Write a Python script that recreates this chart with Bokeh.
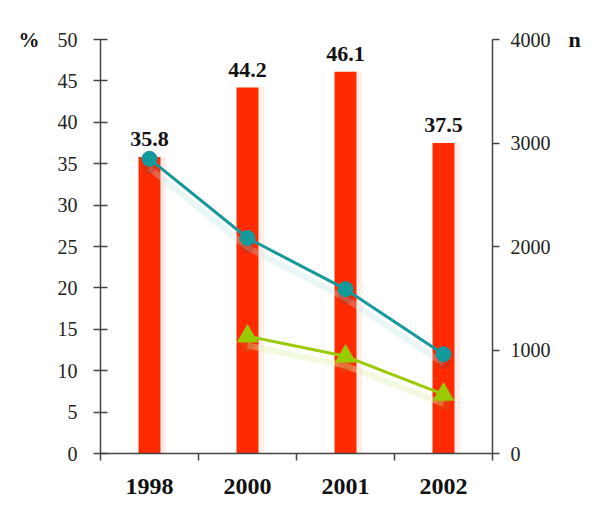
from bokeh.plotting import figure
from bokeh.models import (Range1d, LinearAxis, FixedTicker, ColumnDataSource)
from bokeh.transform import dodge
from bokeh.embed import file_html
from bokeh.resources import INLINE
from bokeh.core.properties import value

years = ["1998", "2000", "2001", "2002"]
pct = [35.8, 44.2, 46.1, 37.5]
teal_n = [2847, 2082, 1588, 959]
green_years = ["2000", "2001", "2002"]
green_n = [1133, 939, 571]
pct_ticks = [0, 5, 10, 15, 20, 25, 30, 35, 40, 45, 50]
n_ticks = [0, 1000, 2000, 3000, 4000]
left_title = "%"
right_title = "n"

xpos = [i + 0.5 for i in range(len(years))]
gxpos = [years.index(y) + 0.5 for y in green_years]

RED = "#FF2A00"
TEAL = "#14999C"
GREEN = "#99CC00"
FONT = "Liberation Serif"

W, H = 584, 511
p = figure(width=W, height=H, output_backend="svg", toolbar_location=None,
           x_range=Range1d(0, len(years)), y_range=Range1d(0, max(pct_ticks)),
           min_border_left=100, min_border_right=92, min_border_top=39,
           min_border_bottom=58, x_axis_type=None, y_axis_type=None)
p.extra_y_ranges = {"n": Range1d(0, max(n_ticks))}
p.outline_line_color = None
p.grid.visible = False
p.background_fill_color = "white"
p.border_fill_color = "white"

bars = ColumnDataSource(dict(x=xpos, top=pct, lab=[f"{v:.1f}" for v in pct]))
teal = ColumnDataSource(dict(x=xpos, y=teal_n))
green = ColumnDataSource(dict(x=gxpos, y=green_n))

# bar glow
p.vbar(x=dodge("x", 0.04, range=p.x_range), top="top", width=0.26, bottom=0,
       source=bars, fill_color="#FFE2DC", line_color=None, fill_alpha=0.6)
p.vbar(x="x", top="top", width=0.224, bottom=0, source=bars,
       fill_color=RED, line_color=None)
p.text(x="x", y="top", text="lab", source=bars, text_align="center",
       text_baseline="bottom", y_offset=-11, text_font=value(FONT),
       text_font_style="bold", text_font_size="22px", text_color="#111111")

# line shadows
p.line(x="x", y=dodge("y", -90, range=p.extra_y_ranges["n"]), source=teal,
       y_range_name="n", line_color="#B5E0E2", line_width=6, line_alpha=0.3)
p.line(x="x", y=dodge("y", -90, range=p.extra_y_ranges["n"]), source=green,
       y_range_name="n", line_color="#DDEFB0", line_width=6, line_alpha=0.4)
p.scatter(x="x", y=dodge("y", -80, range=p.extra_y_ranges["n"]), source=teal,
          y_range_name="n", size=14, marker="circle", fill_color="#8A3A3A",
          fill_alpha=0.3, line_color=None)
p.scatter(x="x", y=dodge("y", -90, range=p.extra_y_ranges["n"]), source=green,
          y_range_name="n", size=14, marker="circle", fill_color="#C06020",
          fill_alpha=0.3, line_color=None)

p.line(x="x", y="y", source=teal, y_range_name="n", line_color=TEAL, line_width=3)
p.scatter(x="x", y="y", source=teal, y_range_name="n", size=15, marker="circle",
          fill_color=TEAL, line_color=TEAL)
p.line(x="x", y="y", source=green, y_range_name="n", line_color=GREEN, line_width=3)
p.scatter(x="x", y="y", source=green, y_range_name="n", size=20, marker="triangle",
          fill_color=GREEN, line_color=GREEN)

AX = "#444444"

left = LinearAxis(ticker=FixedTicker(ticks=pct_ticks))
left.axis_line_color = AX
left.axis_line_width = 1.5
left.major_tick_line_color = AX
left.major_tick_line_width = 1.5
left.major_tick_in = 7
left.major_tick_out = 7
left.minor_tick_line_color = None
left.major_label_standoff = 16
left.major_label_text_font = FONT
left.major_label_text_font_size = "20px"
left.major_label_text_color = "#222222"
p.add_layout(left, "left")

# unit title "%" placed as a label level with the top tick
ltitle = LinearAxis(ticker=FixedTicker(ticks=[max(pct_ticks)]))
ltitle.axis_line_color = None
ltitle.major_tick_line_color = None
ltitle.minor_tick_line_color = None
ltitle.major_label_overrides = {max(pct_ticks): left_title}
ltitle.major_label_standoff = 9
ltitle.major_label_text_font = FONT
ltitle.major_label_text_font_style = "bold"
ltitle.major_label_text_font_size = "21px"
ltitle.major_label_text_color = "#111111"
p.add_layout(ltitle, "left")

right = LinearAxis(y_range_name="n", ticker=FixedTicker(ticks=n_ticks))
right.axis_line_color = AX
right.axis_line_width = 1.5
right.major_tick_line_color = AX
right.major_tick_line_width = 1.5
right.major_tick_in = 0
right.major_tick_out = 7
right.minor_tick_line_color = None
right.major_label_standoff = 11
right.major_label_text_font = FONT
right.major_label_text_font_size = "20px"
right.major_label_text_color = "#222222"
p.add_layout(right, "right")

rtitle = LinearAxis(y_range_name="n", ticker=FixedTicker(ticks=[max(n_ticks)]))
rtitle.axis_line_color = None
rtitle.major_tick_line_color = None
rtitle.minor_tick_line_color = None
rtitle.major_label_overrides = {max(n_ticks): right_title}
rtitle.major_label_standoff = 9
rtitle.major_label_text_font = FONT
rtitle.major_label_text_font_style = "bold"
rtitle.major_label_text_font_size = "22px"
rtitle.major_label_text_color = "#111111"
p.add_layout(rtitle, "right")

bottom = LinearAxis(ticker=FixedTicker(ticks=list(range(len(years) + 1))))
bottom.axis_line_color = AX
bottom.axis_line_width = 1.5
bottom.major_tick_line_color = AX
bottom.major_tick_line_width = 1.5
bottom.major_tick_in = 0
bottom.major_tick_out = 7
bottom.minor_tick_line_color = None
bottom.major_label_text_font_size = "0px"
bottom.major_label_standoff = 0
bottom.major_label_overrides = {i: "" for i in range(len(years) + 1)}
p.add_layout(bottom, "below")

labels = LinearAxis(ticker=FixedTicker(ticks=xpos))
labels.axis_line_color = None
labels.major_tick_line_color = None
labels.minor_tick_line_color = None
labels.major_label_overrides = {x: y for x, y in zip(xpos, years)}
labels.major_label_standoff = 12
labels.major_label_text_font = FONT
labels.major_label_text_font_style = "bold"
labels.major_label_text_font_size = "24px"
labels.major_label_text_color = "#111111"
p.add_layout(labels, "below")

open("out.html", "w").write(file_html(p, INLINE))
